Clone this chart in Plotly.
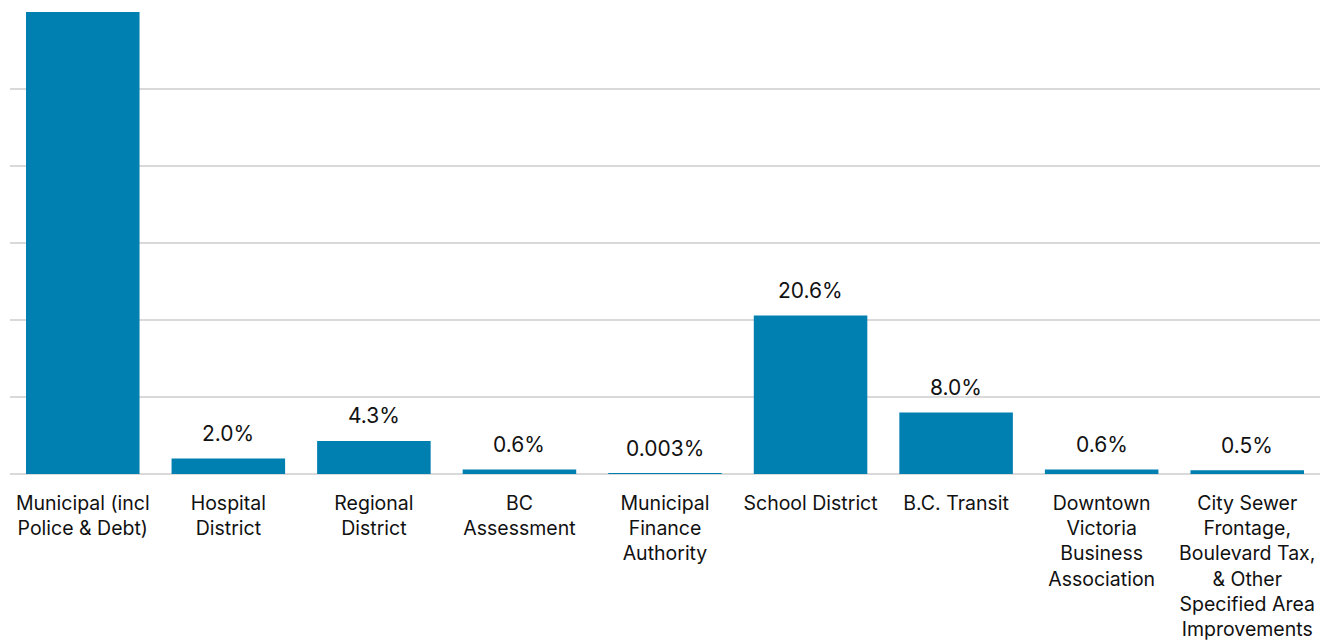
import plotly.graph_objects as go

# Share of the property tax bill by taxing authority
categories = [
    "Municipal (incl<br>Police & Debt)",
    "Hospital<br>District",
    "Regional<br>District",
    "BC<br>Assessment",
    "Municipal<br>Finance<br>Authority",
    "School District",
    "B.C. Transit",
    "Downtown<br>Victoria<br>Business<br>Association",
    "City Sewer<br>Frontage,<br>Boulevard Tax,<br>& Other<br>Specified Area<br>Improvements",
]
shares = [63.4, 2.0, 4.3, 0.6, 0.003, 20.6, 8.0, 0.6, 0.5]
share_labels = ["63.4%", "2.0%", "4.3%", "0.6%", "0.003%", "20.6%", "8.0%", "0.6%", "0.5%"]

BAR_COLOR = "#007FB1"
GRID_COLOR = "#D9D9D9"
TEXT_COLOR = "#111111"
FONT = "Inter"
Y_MAX = 60

fig = go.Figure(
    go.Bar(
        x=categories,
        y=shares,
        marker=dict(color=BAR_COLOR, line=dict(width=0)),
        hoverinfo="skip",
    )
)

# value labels above each bar (the tallest bar runs past the axis top and is left unlabeled)
for cat, val, lab in zip(categories, shares, share_labels):
    if val > Y_MAX:
        continue
    fig.add_annotation(
        x=cat, y=val, text=lab, showarrow=False,
        yanchor="middle", yshift=25,
        font=dict(family=FONT, size=21, color=TEXT_COLOR),
    )

fig.update_layout(
    width=1321, height=644,
    margin=dict(l=10, r=1, t=12, b=170),
    paper_bgcolor="white", plot_bgcolor="white",
    bargap=0.22,
    showlegend=False,
    font=dict(family=FONT, size=19.5, color=TEXT_COLOR),
)
fig.update_xaxes(
    showline=False, showgrid=False, ticks="",
    tickfont=dict(family=FONT, size=19.5, color=TEXT_COLOR),
    ticklabelstandoff=15,
)
fig.update_yaxes(
    range=[0, Y_MAX], dtick=10,
    showgrid=True, gridcolor=GRID_COLOR, gridwidth=1.5,
    zeroline=True, zerolinecolor=GRID_COLOR, zerolinewidth=1.5,
    showticklabels=False, ticks="", showline=False,
)

fig.write_html("out.html")
